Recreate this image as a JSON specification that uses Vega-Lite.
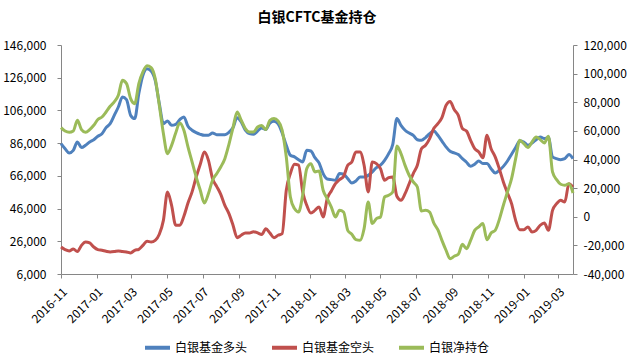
{
  "$schema": "https://vega.github.io/schema/vega-lite/v6.json",
  "width": 512,
  "height": 229,
  "autosize": {"type": "none"},
  "padding": {"left": 61, "top": 45, "right": 59, "bottom": 82},
  "background": "white",
  "config": {"font": "Noto Sans CJK SC", "view": {"stroke": null}},
  "title": {"text": "白银CFTC基金持仓", "fontSize": 14, "fontWeight": "bold", "font": "Noto Sans CJK SC", "color": "#000000", "anchor": "middle", "offset": 14},
  "data": {"values": [
    {"date": "2016-11-01", "白银基金多头": 85700, "白银基金空头": 22500, "白银净持仓": 62300},
    {"date": "2016-11-08", "白银基金多头": 82600, "白银基金空头": 20900, "白银净持仓": 59900},
    {"date": "2016-11-15", "白银基金多头": 80000, "白银基金空头": 20100, "白银净持仓": 59000},
    {"date": "2016-11-22", "白银基金多头": 81600, "白银基金空头": 21300, "白银净持仓": 59900},
    {"date": "2016-11-29", "白银基金多头": 86700, "白银基金空头": 19700, "白银净持仓": 67400},
    {"date": "2016-12-06", "白银基金多头": 83300, "白银基金空头": 23500, "白银净持仓": 60900},
    {"date": "2016-12-13", "白银基金多头": 84700, "白银基金空头": 25600, "白银净持仓": 59000},
    {"date": "2016-12-20", "白银基金多头": 86700, "白银基金空头": 25000, "白银净持仓": 60900},
    {"date": "2016-12-27", "白银基金多头": 88100, "白银基金空头": 22500, "白银净持仓": 63900},
    {"date": "2017-01-03", "白银基金多头": 90200, "白银基金空头": 20900, "白银净持仓": 67900},
    {"date": "2017-01-10", "白银基金多头": 91800, "白银基金空头": 20500, "白银净持仓": 69700},
    {"date": "2017-01-17", "白银基金多头": 95500, "白银基金空头": 19900, "白银净持仓": 73200},
    {"date": "2017-01-24", "白银基金多头": 97900, "白银基金空头": 19500, "白银净持仓": 77200},
    {"date": "2017-01-31", "白银基金多头": 103000, "白银基金空头": 19700, "白银净持仓": 80200},
    {"date": "2017-02-07", "白银基金多头": 108100, "白银基金空头": 20100, "白银净持仓": 84900},
    {"date": "2017-02-14", "白银基金多头": 114200, "白银基金空头": 19700, "白银净持仓": 95300},
    {"date": "2017-02-21", "白银基金多头": 112600, "白银基金空头": 19500, "白银净持仓": 93000},
    {"date": "2017-02-28", "白银基金多头": 103000, "白银基金空头": 18900, "白银净持仓": 82500},
    {"date": "2017-03-07", "白银基金多头": 101000, "白银基金空头": 20500, "白银净持仓": 79000},
    {"date": "2017-03-14", "白银基金多头": 116300, "白银基金空头": 21100, "白银净持仓": 93000},
    {"date": "2017-03-21", "白银基金多头": 127500, "白银基金空头": 23500, "白银净持仓": 101200},
    {"date": "2017-03-28", "白银基金多头": 131500, "白银基金空头": 26000, "白银净持仓": 105500},
    {"date": "2017-04-04", "白银基金多头": 130100, "白银基金空头": 25600, "白银净持仓": 104200},
    {"date": "2017-04-11", "白银基金多头": 124400, "白银基金空头": 26600, "白银净持仓": 96500},
    {"date": "2017-04-18", "白银基金多头": 110200, "白银基金空头": 30300, "白银净持仓": 77900},
    {"date": "2017-04-25", "白银基金多头": 97900, "白银基金空头": 38800, "白银净持仓": 58100},
    {"date": "2017-05-02", "白银基金多头": 99600, "白银基金空头": 56200, "白银净持仓": 44100},
    {"date": "2017-05-09", "白银基金多头": 96900, "白银基金空头": 48000, "白银净持仓": 49900},
    {"date": "2017-05-16", "白银基金多头": 97500, "白银基金空头": 35800, "白银净持仓": 58500},
    {"date": "2017-05-23", "白银基金多头": 100400, "白银基金空头": 35800, "白银净持仓": 65500},
    {"date": "2017-05-30", "白银基金多头": 102000, "白银基金空头": 41300, "白银净持仓": 60400},
    {"date": "2017-06-06", "白银基金多头": 96300, "白银基金空头": 49400, "白银净持仓": 48800},
    {"date": "2017-06-13", "白银基金多头": 93900, "白银基金空头": 56200, "白银净持仓": 38300},
    {"date": "2017-06-20", "白银基金多头": 92400, "白银基金空头": 65300, "白银净持仓": 27800},
    {"date": "2017-06-27", "白银基金多头": 91400, "白银基金空头": 73100, "白银净持仓": 18500},
    {"date": "2017-07-04", "白银基金多头": 90800, "白银基金空头": 80600, "白银净持仓": 9600},
    {"date": "2017-07-11", "白银基金多头": 90800, "白银基金空头": 75500, "白银净持仓": 16200},
    {"date": "2017-07-18", "白银基金多头": 92200, "白银基金空头": 64300, "白银净持仓": 25500},
    {"date": "2017-07-25", "白银基金多头": 91200, "白银基金空头": 59600, "白银净持仓": 30100},
    {"date": "2017-08-01", "白银基金多头": 91200, "白银基金空头": 54700, "白银净持仓": 34800},
    {"date": "2017-08-08", "白银基金多头": 91200, "白银基金空头": 48000, "白银净持仓": 40600},
    {"date": "2017-08-15", "白银基金多头": 92600, "白银基金空头": 42900, "白银净持仓": 50600},
    {"date": "2017-08-22", "白银基金多头": 95500, "白银基金空头": 35800, "白银净持仓": 62300},
    {"date": "2017-08-29", "白银基金多头": 101600, "白银基金空头": 28200, "白银净持仓": 73200},
    {"date": "2017-09-05", "白银基金多头": 98900, "白银基金空头": 29700, "白银净持仓": 67400},
    {"date": "2017-09-12", "白银基金多头": 93900, "白银基金空头": 31100, "白银净持仓": 61600},
    {"date": "2017-09-19", "白银基金多头": 91800, "白银基金空头": 31100, "白银净持仓": 59200},
    {"date": "2017-09-26", "白银基金多头": 91400, "白银基金空头": 31900, "白银净持仓": 59200},
    {"date": "2017-10-03", "白银基金多头": 93400, "白银基金空头": 31100, "白银净持仓": 62700},
    {"date": "2017-10-10", "白银基金多头": 95300, "白银基金空头": 30100, "白银净持仓": 63700},
    {"date": "2017-10-17", "白银基金多头": 94300, "白银基金空头": 33700, "白银净持仓": 60900},
    {"date": "2017-10-24", "白银基金多头": 98300, "白银基金空头": 31100, "白银净持仓": 67400},
    {"date": "2017-10-31", "白银基金多头": 99400, "白银基金空头": 28200, "白银净持仓": 68600},
    {"date": "2017-11-07", "白银基金多头": 97900, "白银基金空头": 29700, "白银净持仓": 66900},
    {"date": "2017-11-14", "白银基金多头": 92200, "白银基金空头": 30700, "白银净持仓": 60400},
    {"date": "2017-11-21", "白银基金多头": 84700, "白银基金空头": 57200, "白银净持仓": 41800},
    {"date": "2017-11-28", "白银基金多头": 78600, "白银基金空头": 67400, "白银净持仓": 13800},
    {"date": "2017-12-05", "白银基金多头": 77600, "白银基金空头": 73100, "白银净持仓": 5700},
    {"date": "2017-12-12", "白银基金多头": 75900, "白银基金空头": 72500, "白银净持仓": 3300},
    {"date": "2017-12-19", "白银基金多头": 74500, "白银基金空头": 56200, "白银净持仓": 15000},
    {"date": "2017-12-26", "白银基金多头": 81600, "白银基金空头": 48000, "白银净持仓": 33600},
    {"date": "2018-01-02", "白银基金多头": 81200, "白银基金空头": 43300, "白银净持仓": 37100},
    {"date": "2018-01-09", "白银基金多头": 77100, "白银基金空头": 44900, "白银净持仓": 31300},
    {"date": "2018-01-16", "白银基金多头": 73900, "白银基金空头": 47000, "白银净持仓": 32000},
    {"date": "2018-01-23", "白银基金多头": 67400, "白银基金空头": 40900, "白银净持仓": 18500},
    {"date": "2018-01-30", "白银基金多头": 64100, "白银基金空头": 52100, "白银净持仓": 12700},
    {"date": "2018-02-06", "白银基金多头": 63700, "白银基金空头": 56800, "白银净持仓": 6800},
    {"date": "2018-02-13", "白银基金多头": 63300, "白银基金空头": 61200, "白银净持仓": -200},
    {"date": "2018-02-20", "白银基金多头": 67400, "白银基金空头": 63700, "白银净持仓": 4500},
    {"date": "2018-02-27", "白银基金多头": 67000, "白银基金空头": 65700, "白银净持仓": 3300},
    {"date": "2018-03-06", "白银基金多头": 64300, "白银基金空头": 72500, "白银净持仓": -9500},
    {"date": "2018-03-13", "白银基金多头": 61700, "白银基金空头": 74500, "白银净持仓": -12300},
    {"date": "2018-03-20", "白银基金多头": 62900, "白银基金空头": 80600, "白银净持仓": -16000},
    {"date": "2018-03-27", "白银基金多头": 65300, "白银基金空头": 80600, "白银净持仓": -16500},
    {"date": "2018-04-03", "白银基金多头": 65300, "白银基金空头": 72500, "白银净持仓": -8300},
    {"date": "2018-04-10", "白银基金多头": 66300, "白银基金空头": 56200, "白银净持仓": 10300},
    {"date": "2018-04-17", "白银基金多头": 68400, "白银基金空头": 74500, "白银净持仓": -4800},
    {"date": "2018-04-24", "白银基金多头": 71000, "白银基金空头": 73500, "白银净持仓": -1300},
    {"date": "2018-05-01", "白银基金多头": 72500, "白银基金空头": 70400, "白银净持仓": -200},
    {"date": "2018-05-08", "白银基金多头": 75500, "白银基金空头": 63300, "白银净持仓": 13800},
    {"date": "2018-05-15", "白银基金多头": 79600, "白银基金空头": 64900, "白银净持仓": 15000},
    {"date": "2018-05-22", "白银基金多头": 85300, "白银基金空头": 65300, "白银净持仓": 17300},
    {"date": "2018-05-29", "白银基金多头": 101000, "白银基金空头": 53500, "白银净持仓": 49500},
    {"date": "2018-06-05", "白银基金多头": 96900, "白银基金空头": 51100, "白银净持仓": 44100},
    {"date": "2018-06-12", "白银基金多头": 93900, "白银基金空头": 55100, "白银净持仓": 35900},
    {"date": "2018-06-19", "白银基金多头": 92200, "白银基金空头": 61200, "白银净持仓": 29000},
    {"date": "2018-06-26", "白银基金多头": 90800, "白银基金空头": 67400, "白银净持仓": 24300},
    {"date": "2018-07-03", "白银基金多头": 88100, "白银基金空头": 72500, "白银净持仓": 20800},
    {"date": "2018-07-10", "白银基金多头": 87700, "白银基金空头": 82600, "白银净持仓": 4000},
    {"date": "2018-07-17", "白银基金多头": 89400, "白银基金空头": 84700, "白银净持仓": 4500},
    {"date": "2018-07-24", "白银基金多头": 91800, "白银基金空头": 88800, "白银净持仓": 3300},
    {"date": "2018-07-31", "白银基金多头": 93400, "白银基金空头": 94900, "白银净持仓": -4300},
    {"date": "2018-08-07", "白银基金多头": 90800, "白银基金空头": 97900, "白银净持仓": -9000},
    {"date": "2018-08-14", "白银基金多头": 87300, "白银基金空头": 101600, "白银净持仓": -16500},
    {"date": "2018-08-21", "白银基金多头": 83700, "白银基金空头": 109100, "白银净持仓": -23400},
    {"date": "2018-08-28", "白银基金多头": 81000, "白银基金空头": 111500, "白银净持仓": -29300},
    {"date": "2018-09-04", "白银基金多头": 80000, "白银基金空头": 106500, "白银净持仓": -27600},
    {"date": "2018-09-11", "白银基金多头": 79000, "白银基金空头": 103000, "白银净持仓": -26200},
    {"date": "2018-09-18", "白银基金多头": 76500, "白银基金空头": 94900, "白银净持仓": -19300},
    {"date": "2018-09-25", "白银基金多头": 74300, "白银基金空头": 93400, "白银净持仓": -22300},
    {"date": "2018-10-02", "白银基金多头": 71800, "白银基金空头": 87700, "白银净持仓": -16500},
    {"date": "2018-10-09", "白银基金多头": 73100, "白银基金空头": 82600, "白银净持仓": -9500},
    {"date": "2018-10-16", "白银基金多头": 75100, "白银基金空头": 80600, "白银净持仓": -7100},
    {"date": "2018-10-23", "白银基金多头": 73500, "白银基金空头": 77100, "白银净持仓": -4800},
    {"date": "2018-10-30", "白银基金多头": 73500, "白银基金空头": 90800, "白银净持仓": -16000},
    {"date": "2018-11-06", "白银基金多头": 70400, "白银基金空头": 82600, "白银净持仓": -11300},
    {"date": "2018-11-13", "白银基金多头": 67800, "白银基金空头": 77600, "白银净持仓": -9500},
    {"date": "2018-11-20", "白银基金多头": 69400, "白银基金空头": 70400, "白银净持仓": -2000},
    {"date": "2018-11-27", "白银基金多头": 71800, "白银基金空头": 62300, "白银净持仓": 8000},
    {"date": "2018-12-04", "白银基金多头": 75100, "白银基金空头": 55500, "白银净持仓": 17300},
    {"date": "2018-12-11", "白银基金多头": 79200, "白银基金空头": 49000, "白银净持仓": 26600},
    {"date": "2018-12-18", "白银基金多头": 83300, "白银基金空头": 38800, "白银净持仓": 40600},
    {"date": "2018-12-25", "白银基金多头": 87300, "白银基金空头": 33100, "白银净持仓": 53400},
    {"date": "2019-01-01", "白银基金多头": 86700, "白银基金空头": 33100, "白银净持仓": 51100},
    {"date": "2019-01-08", "白银基金多头": 84700, "白银基金空头": 34800, "白银净持仓": 48300},
    {"date": "2019-01-15", "白银基金多头": 86100, "白银基金空头": 31700, "白银净持仓": 52200},
    {"date": "2019-01-22", "白银基金多头": 88100, "白银基金空头": 32700, "白银净持仓": 55700},
    {"date": "2019-01-29", "白银基金多头": 89800, "白银基金空头": 35800, "白银净持仓": 53900},
    {"date": "2019-02-05", "白银基金多头": 88800, "白银基金空头": 37200, "白银净持仓": 51600},
    {"date": "2019-02-12", "白银基金多头": 89400, "白银基金空头": 32700, "白银净持仓": 56200},
    {"date": "2019-02-19", "白银基金多头": 77600, "白银基金空头": 44900, "白银净持仓": 31300},
    {"date": "2019-02-26", "白银基金多头": 76500, "白银基金空头": 49000, "白银净持仓": 25900},
    {"date": "2019-03-05", "白银基金多头": 75900, "白银基金空头": 51100, "白银净持仓": 22700},
    {"date": "2019-03-12", "白银基金多头": 76500, "白银基金空头": 50000, "白银净持仓": 22000},
    {"date": "2019-03-19", "白银基金多头": 79000, "白银基金空头": 61200, "白银净持仓": 23100},
    {"date": "2019-03-26", "白银基金多头": 76500, "白银基金空头": 59200, "白银净持仓": 16600}
  ]},
  "layer": [
    {
      "transform": [{"fold": ["白银基金多头", "白银基金空头"], "as": ["series", "value"]}],
      "mark": {"type": "line", "strokeWidth": 3, "interpolate": "monotone"},
      "encoding": {
        "x": {"field": "date", "type": "temporal", "scale": {"type": "utc", "nice": false},
          "axis": {"title": null, "grid": false, "domainColor": "#868686", "tickColor": "#868686", "tickSize": 4,
            "tickCount": {"interval": "month", "step": 2}, "labelExpr": "utcFormat(datum.value, '%Y-%m')",
            "labelOverlap": false, "labelAngle": -45, "labelFontSize": 12, "labelColor": "#000000", "labelPadding": 8, "labelFont": "Noto Sans CJK SC"}},
        "y": {"field": "value", "type": "quantitative", "scale": {"domain": [6000, 146000], "nice": false, "zero": false},
          "axis": {"title": null, "grid": false, "domainColor": "#868686", "tickColor": "#868686", "tickSize": 4,
            "values": [6000, 26000, 46000, 66000, 86000, 106000, 126000, 146000],
            "labelExpr": "format(datum.value, ',')",
            "labelFontSize": 12, "labelColor": "#000000", "labelPadding": 11, "labelFont": "Noto Sans CJK SC"}},
        "color": {"field": "series", "type": "nominal",
          "scale": {"domain": ["白银基金多头", "白银基金空头", "白银净持仓"], "range": ["#4F81BD", "#C0504D", "#9BBB59"]},
          "legend": {"title": null, "orient": "none", "legendX": 82, "legendY": 288, "direction": "horizontal",
            "symbolType": "stroke", "symbolSize": 625, "symbolStrokeWidth": 4, "labelFontSize": 12, "labelColor": "#000000",
            "labelOffset": 3, "columnPadding": 16, "labelFont": "Noto Sans CJK SC"}}
      }
    },
    {
      "transform": [{"fold": ["白银净持仓"], "as": ["series", "value"]}],
      "mark": {"type": "line", "strokeWidth": 3, "interpolate": "monotone"},
      "encoding": {
        "x": {"field": "date", "type": "temporal", "scale": {"type": "utc", "nice": false}},
        "y": {"field": "value", "type": "quantitative", "scale": {"domain": [-40000, 120000], "nice": false, "zero": false},
          "axis": {"title": null, "grid": false, "orient": "right", "domainColor": "#868686", "tickColor": "#868686", "tickSize": 4,
            "values": [-40000, -20000, 0, 20000, 40000, 60000, 80000, 100000, 120000],
            "labelExpr": "replace(format(datum.value, ','), '−', '-')",
            "labelFontSize": 12, "labelColor": "#000000", "labelPadding": 6, "labelFont": "Noto Sans CJK SC"}},
        "color": {"field": "series", "type": "nominal"}
      }
    }
  ],
  "resolve": {"scale": {"y": "independent"}}
}
